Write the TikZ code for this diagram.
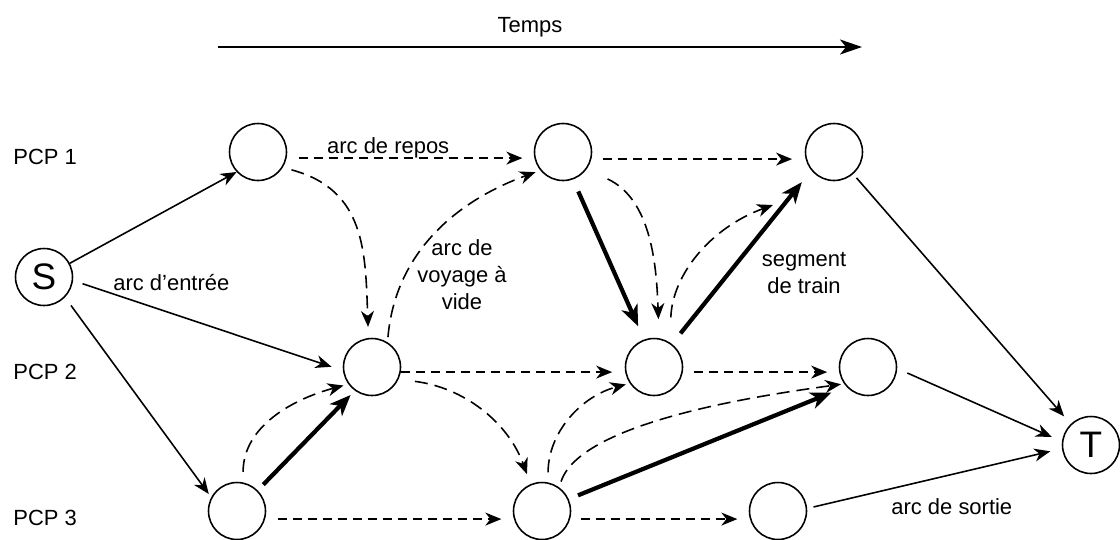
\documentclass[tikz,border=0pt]{standalone}
\usepackage{fontspec}
\setmainfont{Liberation Sans}
\usetikzlibrary{arrows.meta}

\begin{document}
\begin{tikzpicture}[x=0.02cm, y=-0.02cm,
    every node/.style={font=\fontsize{12.5}{15.3}\selectfont},
    stop/.style={draw, circle, line width=0.9pt, minimum size=1.14cm, inner sep=0pt},
    term/.style={stop, font=\fontsize{21}{24}\selectfont},
    pcp/.style={anchor=west, inner sep=0pt},
    arcin/.style={-{Stealth[length=0.32cm, width=0.26cm, inset=0.1cm]}, line width=0.9pt},
    repos/.style={arcin, dash pattern=on 0.18cm off 0.12cm},
    vide/.style={arcin, dash pattern=on 0.26cm off 0.14cm},
    segm/.style={-{Stealth[length=0.42cm, width=0.34cm, inset=0.12cm]}, line width=2.4pt}]
          \useasboundingbox (0,0) rectangle (1120,539);

          % time axis
          \coordinate (t0) at (218,47);
          \coordinate (t1) at (862,47);
          \draw[line width=1.3pt, -{Stealth[length=0.44cm, width=0.3cm, inset=0.12cm]}] (t0) -- (t1);
          \node[anchor=base] (temps) at (530,32) {Temps};

          % rows
          \node[pcp] (pcp1) at (13,157) {PCP 1};
          \node[pcp] (pcp2) at (13,372) {PCP 2};
          \node[pcp] (pcp3) at (13,518) {PCP 3};

          \node[term] (S) at (44,277) {S};
          \node[term] (T) at (1091,445) {T};
          \node[stop] (P1a) at (258,152) {};
          \node[stop] (P1b) at (563,152) {};
          \node[stop] (P1c) at (834,152) {};
          \node[stop] (P2a) at (372,367) {};
          \node[stop] (P2b) at (654,367) {};
          \node[stop] (P2c) at (868,367) {};
          \node[stop] (P3a) at (237,511) {};
          \node[stop] (P3b) at (542,511) {};
          \node[stop] (P3c) at (778,511) {};

          % entry arcs
          \path[arcin] (S.28) edge (P1a.223);
          \path[arcin] (S.-7) edge[shorten <=0.2cm, shorten >=0.24cm] node[pos=0.14, anchor=south west, inner sep=1pt] {arc d’entrée} (P2a.187);
          \path[arcin] (S.-44) edge[shorten <=0.2cm, shorten >=0.08cm] (P3a.152);

          % waiting arcs
          \path[repos] (P1a.-12) edge[shorten <=0.24cm, shorten >=0.24cm] node[pos=0.41, anchor=base, yshift=0.1cm] {arc de repos} (P1b.192);
          \path[repos] (P1b.-14) edge[shorten <=0.23cm, shorten >=0.27cm] (P1c.194);
          \path[repos] (P2a.-10) edge[shorten >=0.26cm] (P2b.190);
          \path[repos] (P2b.-10) edge[shorten <=0.22cm, shorten >=0.24cm] (P2c.190);
          \path[repos] (P3a.-16) edge[shorten <=0.25cm, shorten >=0.25cm] (P3b.196);
          \path[repos] (P3b.-16) edge[shorten <=0.21cm, shorten >=0.25cm] (P3c.196);

          % deadheading arcs
          \path[vide] (P1a.-32) edge[out=-15, in=92, looseness=1.15, shorten <=0.18cm, shorten >=0.22cm] (P2a.97);
          \path[vide] (P2a.58) edge[out=85, in=200, shorten <=0.1cm, shorten >=0.1cm] (P1b.219);
          \path[vide] (P1b.-36) edge[out=-25, in=92, shorten <=0.46cm, shorten >=0.38cm] (P2b.80);
          \path[vide] (P2b.57) edge[out=88, in=200, shorten <=0.5cm] ([shift={(-61,53)}]P1c.center);
          \path[vide] (P2a.-25) edge[out=-7, in=110, shorten <=0.33cm, shorten >=0.21cm] (P3b.113);
          \path[vide] (P3a.78) edge[out=90, in=195, shorten <=0.21cm, shorten >=0.1cm] (P2a.216);
          \path[vide] (P3b.78) edge[out=90, in=195, shorten <=0.2cm, shorten >=0.08cm] (P2b.214);
          \path[vide] (P3b.54) edge[out=72, in=188, looseness=0.6, shorten <=0.12cm, shorten >=0.06cm] (P2c.215);
          \node[align=center] (lvide) at (462,275) {arc de\\voyage à\\vide};

          % train segments
          \path[segm] (P3a.45) edge[shorten <=0.16cm, shorten >=0.12cm] (P2a.234);
          \path[segm] (P1b.-70) edge[shorten <=0.26cm, shorten >=0.29cm] (P2b.110);
          \path[segm] (P2b.52) edge[shorten <=0.27cm, shorten >=0.3cm] (P1c.219);
          \path[segm] (P3b.24) edge[shorten <=0.2cm, shorten >=0.32cm] (P2c.222);
          \node[align=center] (lsegm) at (804,273) {segment\\de train};

          % exit arcs
          \path[arcin] (P1c.-49) edge[shorten <=0.1cm, shorten >=0.2cm] (T.134);
          \path[arcin] (P2c.-3) edge[shorten <=0.22cm, shorten >=0.22cm] (T.173);
          \path[arcin] (P3c.5) edge[shorten <=0.13cm, shorten >=0.24cm] node[pos=0.3, anchor=north west, inner sep=0.14cm] {arc de sortie} (T.187);
        \end{tikzpicture}
\end{document}
